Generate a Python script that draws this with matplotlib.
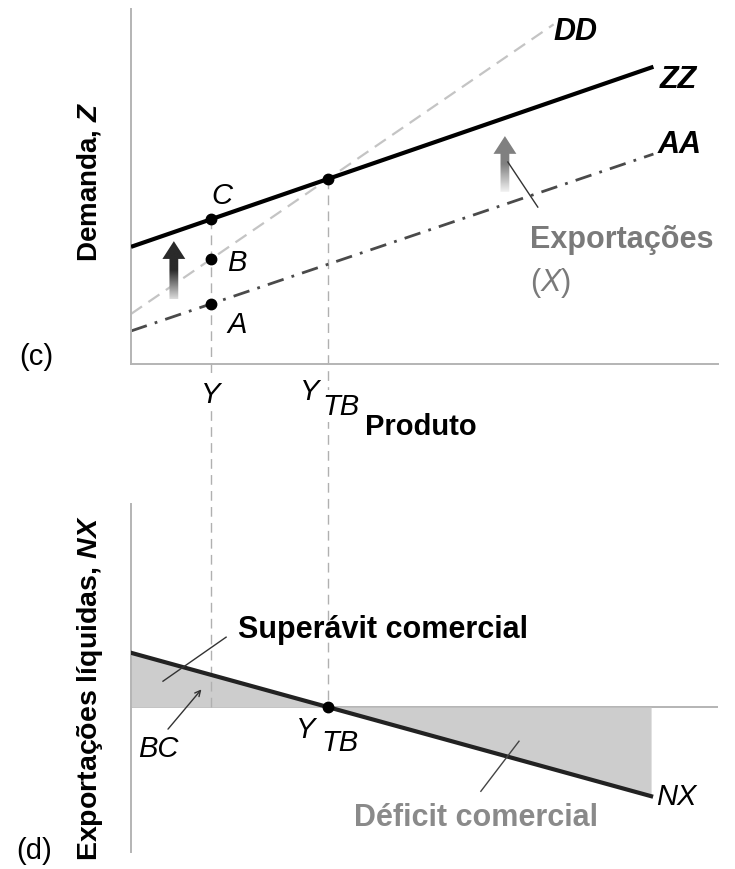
import numpy as np
import matplotlib.pyplot as plt
from matplotlib.patches import FancyArrow
from matplotlib.colors import LinearSegmentedColormap

plt.rcParams['font.family'] = ['Liberation Sans', 'DejaVu Sans']
plt.rcParams['mathtext.fontset'] = 'custom'
plt.rcParams['mathtext.rm'] = 'Liberation Sans'
plt.rcParams['mathtext.it'] = 'Liberation Sans:italic'
plt.rcParams['mathtext.bf'] = 'Liberation Sans:bold:italic'

# --- curves (intercept, slope) in output units ---
zz_icpt, zz_slope = 3.3, 0.57      # ZZ demand for domestic goods
dd_icpt, dd_slope = 1.41, 1.133    # DD domestic demand
aa_icpt, aa_slope = 0.93, 0.56     # AA  (ZZ without exports)
nx_icpt = 1.53                     # net exports at zero output
zz_x = [0, 8.9]
dd_x = [0, 7.2]
aa_x = [0, 8.9]
nx_x = [0, 8.86]

y_point = 1.36                                        # output Y
y_tb = (zz_icpt - dd_icpt) / (dd_slope - zz_slope)    # trade balance output
nx_slope = -nx_icpt / y_tb


def line(icpt, slope, x):
    return icpt + slope * np.asarray(x, dtype=float)


AXC = '#b4b4b4'
GUIDE = '#b0b0b0'
FS = 22     # horizontal text
FSL = 21    # single letters

fig = plt.figure(figsize=(7.35, 8.7), dpi=100)
ax1 = fig.add_axes([131/735, 1-365/870, 587/735, 355/870])
ax2 = fig.add_axes([131/735, 1-853/870, 587/735, 348/870])
ax1.set_xlim(0, 10)
ax1.set_ylim(0, 10)
ax2.set_xlim(0, 10)
ax2.set_ylim(-4.08, 5.72)
ax2.patch.set_alpha(0)

for ax in (ax1, ax2):
    ax.set_xticks([])
    ax.set_yticks([])
    for s in ('top', 'right'):
        ax.spines[s].set_visible(False)
    ax.spines['left'].set_color(AXC)
    ax.spines['left'].set_linewidth(1.4)
ax1.spines['bottom'].set_color(AXC)
ax1.spines['bottom'].set_linewidth(1.4)
ax2.spines['bottom'].set_visible(False)
ax2.axhline(0, color=AXC, lw=1.4, zorder=1)

# ---------------- top panel ----------------
ax1.plot(dd_x, line(dd_icpt, dd_slope, dd_x), color='#c4c4c4', lw=1.6,
         ls=(0, (6, 3.5)), zorder=2)
ax1.plot(aa_x, line(aa_icpt, aa_slope, aa_x), color='#4a4a4a', lw=2.0,
         ls=(0, (6, 3, 1, 3)), zorder=2)
ax1.plot(zz_x, line(zz_icpt, zz_slope, zz_x), color='black', lw=3.0,
         solid_capstyle='butt', zorder=3)

# dashed guides down to the NX axis
y_bot = ax1.transData.inverted().transform(ax2.transData.transform((0, 0)))[1]
for xv in (y_point, y_tb):
    ax1.plot([xv, xv], [line(zz_icpt, zz_slope, xv), y_bot], color=GUIDE,
             lw=1.0, ls=(0, (7, 4.5)), clip_on=False, zorder=1)
ax2.plot([y_point, y_point], [0, line(nx_icpt, nx_slope, y_point)],
         color=GUIDE, lw=1.0, ls=(0, (7, 4.5)), zorder=3)

pts_x = [y_point, y_point, y_point, y_tb]
pts_y = [line(zz_icpt, zz_slope, y_point), line(dd_icpt, dd_slope, y_point),
         line(aa_icpt, aa_slope, y_point), line(zz_icpt, zz_slope, y_tb)]
ax1.plot(pts_x, pts_y, 'o', color='black', ms=7.5, zorder=5)


def grad_arrow(ax, x, y0, y1, c_tail, c_head):
    arr = FancyArrow(x, y0, 0, y1 - y0, width=0.15, head_width=0.39,
                     head_length=0.5, length_includes_head=True,
                     facecolor='none', edgecolor='none')
    ax.add_patch(arr)
    cmap = LinearSegmentedColormap.from_list('g', [c_tail, c_head, c_head])
    im = ax.imshow(np.linspace(0, 1, 200).reshape(-1, 1), cmap=cmap,
                   extent=[x - 0.3, x + 0.3, y0, y1], origin='lower',
                   aspect='auto', zorder=4)
    im.set_clip_path(arr)


grad_arrow(ax1, 0.73, 1.83, 3.46, '#dcdcdc', '#2a2a2a')
grad_arrow(ax1, 6.37, 4.85, 6.42, '#f2f2f2', '#808080')
ax1.set_xlim(0, 10)
ax1.set_ylim(0, 10)
ax1.plot([6.42, 6.93], [5.69, 4.42], color='#333333', lw=1.0, zorder=4)

ax1.text(7.2, 9.38, 'DD', fontsize=FS, fontweight='bold', style='italic',
         va='center', ha='left')
ax1.text(9.0, 8.03, 'ZZ', fontsize=FS, fontweight='bold', style='italic',
         va='center', ha='left')
ax1.text(8.97, 6.2, 'AA', fontsize=FS, fontweight='bold', style='italic',
         va='center', ha='left')
ax1.text(1.55, 4.75, 'C', fontsize=FSL, style='italic', va='center', ha='center')
ax1.text(1.8, 2.86, 'B', fontsize=FSL, style='italic', va='center', ha='center')
ax1.text(1.8, 1.13, 'A', fontsize=FSL, style='italic', va='center', ha='center')
ax1.text(6.8, 3.52, 'Exportações', fontsize=FS, fontweight='bold',
         color='#7a7a7a', va='center', ha='left')
ax1.text(6.8, 2.31, '($\\mathit{X}$)', fontsize=FS, color='#7a7a7a',
         va='center', ha='left')

lab_box = dict(facecolor='white', edgecolor='none', pad=1.5)
ax1.text(y_point, -0.85, 'Y', fontsize=FSL, style='italic', va='center',
         ha='center', bbox=lab_box, clip_on=False, zorder=6)
ax1.text(y_tb - 0.32, -0.76, 'Y', fontsize=FSL, style='italic', va='center',
         ha='center', bbox=lab_box, clip_on=False, zorder=6)
ax1.text(y_tb - 0.1, -1.18, 'TB', fontsize=FSL, style='italic', va='center',
         ha='left', bbox=lab_box, clip_on=False, zorder=6)
ax1.text(3.99, -1.75, 'Produto', fontsize=FSL, fontweight='bold',
         va='center', ha='left', bbox=lab_box, clip_on=False, zorder=6)

# ---------------- bottom panel ----------------
xs = np.linspace(nx_x[0], nx_x[1], 200)
nx = line(nx_icpt, nx_slope, xs)
ax2.fill_between(xs, nx, 0, color='#cdcdcd', lw=0, zorder=2)
ax2.plot(nx_x, line(nx_icpt, nx_slope, nx_x), color='#222222', lw=3.0,
         zorder=4)
ax2.plot([y_tb], [0], 'o', color='black', ms=7.5, zorder=5)

ax2.plot([0.545, 1.62], [0.73, 1.97], color='#333333', lw=1.0, zorder=5)
ax2.text(1.82, 2.2, 'Superávit comercial', fontsize=FS, fontweight='bold',
         va='center', ha='left')
ax2.annotate('', xy=(1.2, 0.5), xytext=(0.63, -0.62),
             arrowprops=dict(arrowstyle='->', color='#333333', lw=1.0,
                             shrinkA=0, shrinkB=0), zorder=5)
ax2.text(0.47, -1.15, 'BC', fontsize=FSL, style='italic', va='center',
         ha='center')
ax2.text(y_tb - 0.38, -0.62, 'Y', fontsize=FSL, style='italic', va='center',
         ha='center')
ax2.text(y_tb - 0.12, -0.99, 'TB', fontsize=FSL, style='italic', va='center',
         ha='left')
ax2.plot([6.61, 5.96], [-0.96, -2.37], color='#444444', lw=1.0, zorder=5)
ax2.text(3.8, -3.1, 'Déficit comercial', fontsize=FS, fontweight='bold',
         color='#8a8a8a', va='center', ha='left')
ax2.text(8.94, -2.5, 'NX', fontsize=FSL, style='italic', va='center',
         ha='left')

# ---------------- panel labels ----------------
fig.text(89/735, 1-182/870, 'Demanda, $\\mathbf{Z}$', rotation=90,
         fontsize=20, fontweight='bold', va='center', ha='center')
fig.text(90/735, 1-688/870, 'Exportações líquidas, $\\mathbf{NX}$',
         rotation=90, fontsize=20.5, fontweight='bold', va='center',
         ha='center')
fig.text(36/735, 1-357/870, '(c)', fontsize=21, va='center', ha='center')
fig.text(34/735, 1-851/870, '(d)', fontsize=21, va='center', ha='center')

fig.savefig('out.png', dpi=100)
